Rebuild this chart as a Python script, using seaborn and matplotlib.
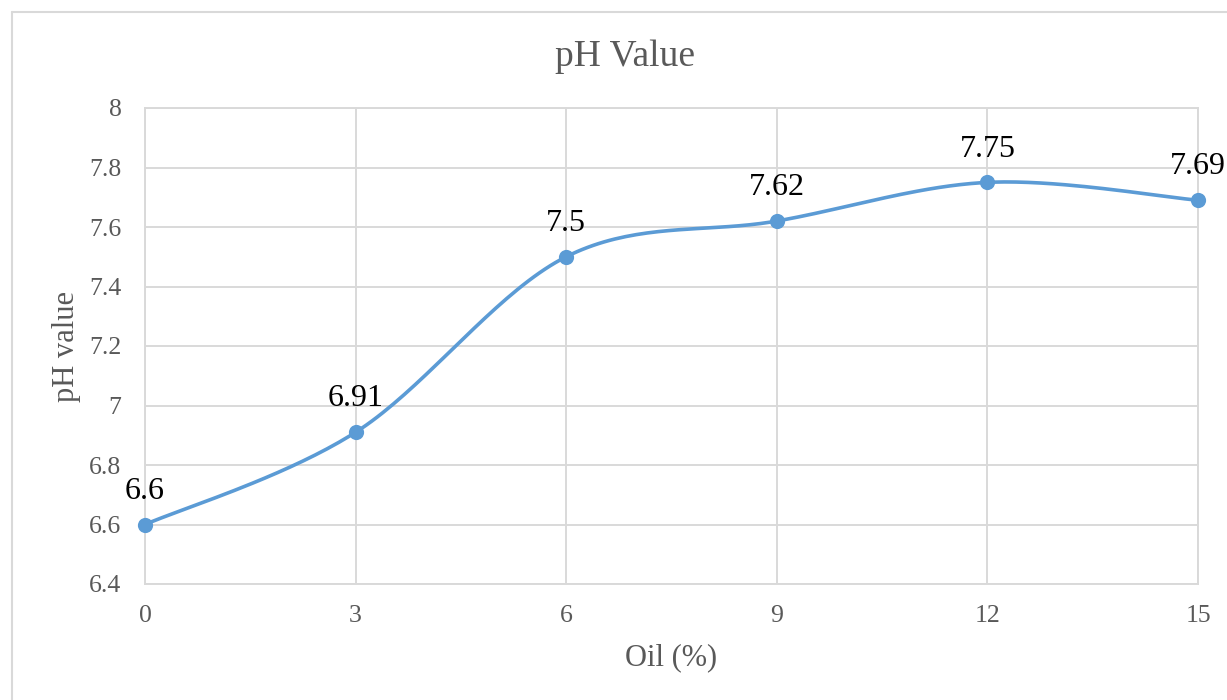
import numpy as np
import pandas as pd
import matplotlib
matplotlib.use("Agg")
import matplotlib.pyplot as plt
from matplotlib.lines import Line2D
import seaborn as sns

# Oil content (%) and measured pH
oil_pct = [0, 3, 6, 9, 12, 15]
ph_values = [6.6, 6.91, 7.5, 7.62, 7.75, 7.69]
ph_labels = ["6.6", "6.91", "7.5", "7.62", "7.75", "7.69"]
x_ticks = [0, 3, 6, 9, 12, 15]
y_ticks = [6.4, 6.6, 6.8, 7.0, 7.2, 7.4, 7.6, 7.8, 8.0]
y_tick_labels = ["6.4", "6.6", "6.8", "7", "7.2", "7.4", "7.6", "7.8", "8"]

BLUE = "#5B9BD5"
GRID = "#D9D9D9"
TEXT_GRAY = "#595959"

sns.set_theme(style="whitegrid")
plt.rcParams["font.family"] = ["Liberation Serif", "DejaVu Serif"]


def smooth_curve(xs, ys, steps=40):
    """Cubic Bezier smoothing through every point (spreadsheet-style smoothed line)."""
    px = np.asarray(xs, float)
    py = np.asarray(ys, float)
    n = len(px)
    out_x, out_y = [], []
    t = np.linspace(0, 1, steps)
    for i in range(n - 1):
        p0 = np.array([px[max(i - 1, 0)], py[max(i - 1, 0)]])
        p1 = np.array([px[i], py[i]])
        p2 = np.array([px[i + 1], py[i + 1]])
        p3 = np.array([px[min(i + 2, n - 1)], py[min(i + 2, n - 1)]])
        c1 = p1 + (p2 - p0) / 6.0
        c2 = p2 - (p3 - p1) / 6.0
        seg = ((1 - t) ** 3)[:, None] * p1 + (3 * (1 - t) ** 2 * t)[:, None] * c1 \
            + (3 * (1 - t) * t ** 2)[:, None] * c2 + (t ** 3)[:, None] * p2
        if i > 0:
            seg = seg[1:]
        out_x.extend(seg[:, 0])
        out_y.extend(seg[:, 1])
    return out_x, out_y


W, H = 1227, 700
fig = plt.figure(figsize=(W / 100, H / 100), dpi=100)
ax = fig.add_axes([145 / W, 1 - 584 / H, (1198 - 145) / W, (584 - 108) / H])

sx, sy = smooth_curve(oil_pct, ph_values)
curve = pd.DataFrame({"oil": sx, "ph": sy})
points = pd.DataFrame({"oil": oil_pct, "ph": ph_values})

sns.lineplot(data=curve, x="oil", y="ph", sort=False, color=BLUE, linewidth=2.6,
             ax=ax, zorder=3, clip_on=False)
sns.scatterplot(data=points, x="oil", y="ph", color=BLUE, s=120, edgecolor=BLUE,
                linewidth=0, ax=ax, zorder=4, clip_on=False)

for xv, yv, lab in zip(oil_pct, ph_values, ph_labels):
    ax.annotate(lab, (xv, yv), xytext=(0, 24), textcoords="offset points",
                ha="center", va="center", fontsize=23, color="black", zorder=5,
                annotation_clip=False)

ax.set_xlim(0, 15)
ax.set_ylim(6.4, 8.0)
ax.set_xticks(x_ticks)
ax.set_xticklabels([str(v) for v in x_ticks])
ax.set_yticks(y_ticks)
ax.set_yticklabels(y_tick_labels)
ax.tick_params(axis="both", length=0, labelsize=18.5, labelcolor=TEXT_GRAY)
ax.tick_params(axis="y", pad=17)
ax.tick_params(axis="x", pad=15)
ax.grid(True, color=GRID, linewidth=1.4)
for sp in ax.spines.values():
    sp.set_color(GRID)
    sp.set_linewidth(1.4)
ax.set_facecolor("white")

ax.set_xlabel("Oil (%)", fontsize=22, color=TEXT_GRAY, labelpad=12)
ax.set_ylabel("pH value", fontsize=22, color=TEXT_GRAY, labelpad=6)

fig.text(625 / W, 1 - 57 / H, "pH Value", ha="center", va="center",
         fontsize=27, color=TEXT_GRAY)

# Chart area outline (left and top edges)
bx, by = 11.5 / W, 1 - 11.5 / H
fig.add_artist(Line2D([bx, bx], [0, by], color=GRID, linewidth=1.5))
fig.add_artist(Line2D([bx, 1], [by, by], color=GRID, linewidth=1.5))

fig.savefig("out.png", dpi=100, facecolor="white")
